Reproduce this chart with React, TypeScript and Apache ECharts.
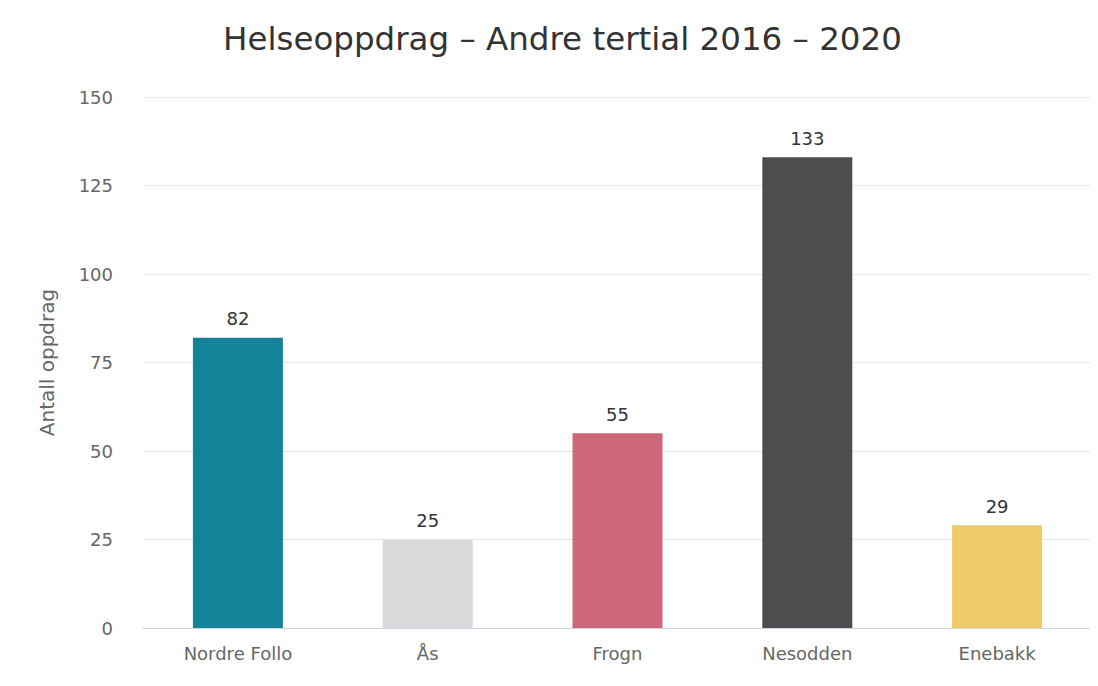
import React, { useEffect, useRef } from "react";
import * as echarts from "echarts";

const categories = ["Nordre Follo", "Ås", "Frogn", "Nesodden", "Enebakk"];
const values = [82, 25, 55, 133, 29];
const colors = ["#138497", "#d9d9d9", "#cf677b", "#4d4d4d", "#f1ca68"];
const yTicks = [0, 25, 50, 75, 100, 125, 150];

export default function App() {
  const ref = useRef<HTMLDivElement>(null);
  useEffect(() => {
    if (!ref.current) return;
    const chart = echarts.init(ref.current, null, { renderer: "svg" });
    const font = "DejaVu Sans";
    chart.setOption({
      animation: false,
      backgroundColor: "#ffffff",
      title: {
        text: "Helseoppdrag – Andre tertial 2016 – 2020",
        left: 218,
        top: 17,
        textStyle: { fontFamily: font, fontSize: 32.5, fontWeight: "normal", color: "#333333" },
      },
      grid: { left: 143, right: 6, top: 97, bottom: 58, containLabel: false },
      xAxis: {
        type: "category",
        data: categories,
        axisLine: { lineStyle: { color: "#ccd6eb" } },
        axisTick: { show: false },
        axisLabel: { fontFamily: font, fontSize: 18, color: "#666666", margin: 16 },
      },
      yAxis: {
        type: "value",
        min: yTicks[0],
        max: yTicks[yTicks.length - 1],
        interval: 25,
        name: "Antall oppdrag",
        nameLocation: "middle",
        nameGap: 86,
        nameTextStyle: { fontFamily: font, fontSize: 20, color: "#666666" },
        axisLine: { show: false },
        axisTick: { show: false },
        splitLine: { lineStyle: { color: "#e6e6e6" } },
        axisLabel: { fontFamily: font, fontSize: 18, color: "#666666", margin: 30 },
      },
      series: [
        {
          type: "bar",
          data: values.map((v, i) => ({ value: v, itemStyle: { color: colors[i] } })),
          barWidth: 90,
          label: {
            show: true,
            position: "top",
            distance: 10,
            fontFamily: font,
            fontSize: 18,
            color: "#333333",
          },
        },
      ],
    });
    return () => chart.dispose();
  }, []);
  return <div ref={ref} style={{ width: 1098, height: 686, marginLeft: -8, marginTop: -8 }} />;
}
